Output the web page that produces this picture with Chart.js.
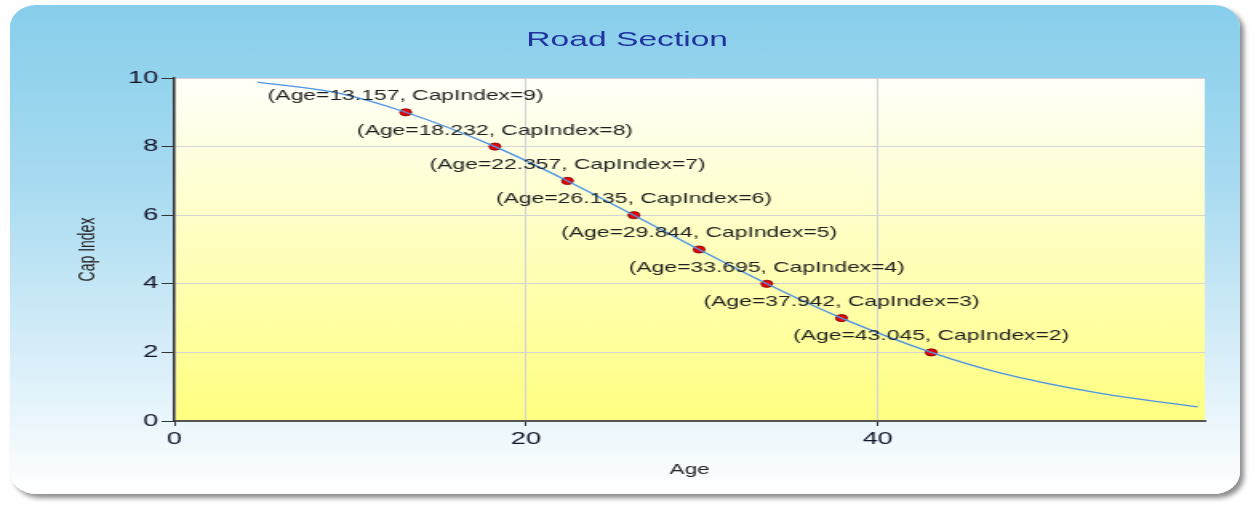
<!DOCTYPE html>
<html>
<head>
<meta charset="utf-8">
<script src="https://cdn.jsdelivr.net/npm/chart.js@4/dist/chart.umd.min.js"></script>
<style>
  body { margin: 0; background: #fff; overflow: hidden; width: 1255px; height: 506px; }
  #panel {
    position: absolute; left: 10px; top: 5px; width: 1230px; height: 489px;
    border-radius: 26px / 22px;
    background: linear-gradient(to bottom, #87ceeb 0%, #a6daf0 35%, #d8eef9 72%, #ffffff 100%);
    box-shadow: 4px 4px 5px rgba(0,0,0,0.45);
  }
  /* the reference is stretched sideways, so the whole chart is drawn narrow and scaled */
  #wrap {
    position: absolute; left: 0; top: 0; width: 784px; height: 506px;
    transform: scaleX(1.6); transform-origin: 0 0;
  }
  #title {
    position: absolute; left: 0; top: 26px; width: 784px; text-align: center;
    font: 21px "Liberation Sans", Arial, sans-serif; color: #2233a0; line-height: 25px;
  }
  canvas { position: absolute; left: 0; top: 0; }
</style>
</head>
<body>
<div id="panel"></div>
<div id="wrap">
  <canvas id="chart" width="784" height="506"></canvas>
  <div id="title">Road Section</div>
</div>
<script>
// curve
const curveAge = [4.72, 9.4, 13.157, 18.232, 22.357, 26.135, 29.844, 33.695, 37.942, 43.045, 46.9, 52.6, 58.2];
const curveCap = [9.88, 9.55, 9, 8, 7, 6, 5, 4, 3, 2, 1.41, 0.81, 0.41];

// labelled points
const pointAge = [13.157, 18.232, 22.357, 26.135, 29.844, 33.695, 37.942, 43.045];
const pointCap = [9, 8, 7, 6, 5, 4, 3, 2];

const xTicks = [0, 20, 40];
const yTicks = [0, 2, 4, 6, 8, 10];

const FONT = '"Liberation Sans", Arial, sans-serif';

// plot area gradient
const plotBackground = {
  id: 'plotBackground',
  beforeDraw(chart) {
    const { ctx, chartArea: a } = chart;
    const g = ctx.createLinearGradient(0, a.top, 0, a.bottom);
    g.addColorStop(0, '#fffffa');
    g.addColorStop(1, '#ffff80');
    ctx.save();
    ctx.fillStyle = g;
    ctx.fillRect(a.left, a.top, a.right - a.left, a.bottom - a.top);
    ctx.restore();
  }
};

// "(Age=.., CapIndex=..)" labels above each point
const pointLabels = {
  id: 'pointLabels',
  afterDatasetsDraw(chart) {
    const { ctx } = chart;
    const meta = chart.getDatasetMeta(1);
    ctx.save();
    ctx.font = '14.3px ' + FONT;
    ctx.fillStyle = '#1e1e1e';
    ctx.textAlign = 'center';
    ctx.textBaseline = 'middle';
    meta.data.forEach((pt, i) => {
      const txt = '(Age=' + pointAge[i].toFixed(3) + ', CapIndex=' + pointCap[i] + ')';
      ctx.fillText(txt, pt.x, pt.y - 16);
    });
    ctx.restore();
  }
};

const ctx = document.getElementById('chart').getContext('2d');
new Chart(ctx, {
  type: 'scatter',
  data: {
    datasets: [
      {
        type: 'line',
        data: curveAge.map((x, i) => ({ x: x, y: curveCap[i] })),
        borderColor: '#4d94e6',
        borderWidth: 1.3,
        pointRadius: 0,
        cubicInterpolationMode: 'monotone',
        fill: false
      },
      {
        data: pointAge.map((x, i) => ({ x: x, y: pointCap[i] })),
        backgroundColor: '#f00000',
        borderColor: '#700000',
        borderWidth: 0.8,
        pointRadius: 3.6
      }
    ]
  },
  options: {
    responsive: false,
    animation: false,
    layout: { padding: { left: 0, right: 31, top: 78, bottom: 0 } },
    plugins: {
      legend: { display: false },
      tooltip: { enabled: false }
    },
    scales: {
      x: {
        type: 'linear',
        min: 0,
        max: 58.6,
        afterFit(scale) { scale.height = 85; },
        afterBuildTicks(scale) { scale.ticks = xTicks.map(v => ({ value: v })); },
        ticks: { font: { size: 17, family: FONT }, color: '#14142a', padding: 3 },
        grid: { color: '#d4d4d4', lineWidth: 1, tickLength: 5, tickColor: '#333' },
        border: { display: true, color: '#555', width: 2 },
        title: {
          display: true, text: 'Age', color: '#222',
          font: { size: 14, family: FONT }, padding: { top: 0, bottom: 27.6 }
        }
      },
      y: {
        min: 0,
        max: 10,
        afterFit(scale) { scale.width = 109; },
        afterBuildTicks(scale) { scale.ticks = yTicks.map(v => ({ value: v })); },
        ticks: { font: { size: 17, family: FONT }, color: '#14142a', padding: 2 },
        grid: { color: '#d4d4d4', lineWidth: 1, tickLength: 8, tickColor: '#333' },
        border: { display: true, color: '#333', width: 1.5 },
        title: {
          display: true, text: 'Cap Index', color: '#222',
          font: { size: 14, family: FONT }, padding: { top: 46.6, bottom: 0 }
        }
      }
    }
  },
  plugins: [plotBackground, pointLabels]
});
</script>
</body>
</html>
